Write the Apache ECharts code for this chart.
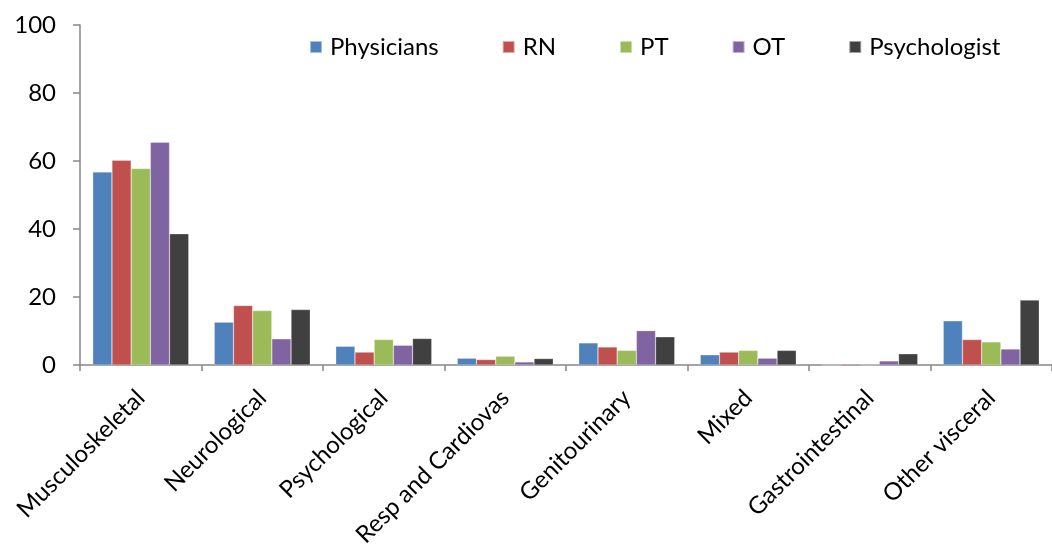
<!DOCTYPE html>
<html>
<head>
<meta charset="utf-8">
<script src="https://cdn.jsdelivr.net/npm/echarts@6/dist/echarts.min.js"></script>
<style>html,body{margin:0;padding:0;background:#fff;}#c{width:1052px;height:553px;}</style>
</head>
<body>
<div id="c"></div>
<script>
const categories = ['Musculoskeletal','Neurological','Psychological','Resp and Cardiovas','Genitourinary','Mixed','Gastrointestinal','Other visceral'];
const seriesNames = ['Physicians','RN','PT','OT','Psychologist'];
const physicians = [56.8, 12.6, 5.5, 2.0, 6.5, 3.0, 0, 13.0];
const rn = [60.2, 17.5, 3.8, 1.6, 5.3, 3.8, 0.3, 7.5];
const pt = [57.8, 16.0, 7.5, 2.6, 4.3, 4.3, 0, 6.8];
const ot = [65.5, 7.7, 5.8, 0.9, 10.1, 2.0, 1.2, 4.7];
const psychologist = [38.6, 16.3, 7.8, 1.9, 8.3, 4.3, 3.3, 19.1];
const yTicks = [0, 20, 40, 60, 80, 100];

const colors = ['#4F81BD','#C0504D','#9BBB59','#8064A2','#404040'];
const values = [physicians, rn, pt, ot, psychologist];
const font = 'Lato, Carlito, "Liberation Sans", sans-serif';

const chart = echarts.init(document.getElementById('c'), null, {renderer:'canvas'});
chart.setOption({
  animation: false,
  color: colors,
  textStyle: {fontFamily: font},
  legend: {
    left: 304, top: 30,
    itemWidth: 12, itemHeight: 12, itemGap: 63,
    icon: 'rect',
    textStyle: {fontSize: 24, color: '#000', fontFamily: font, padding: [0,0,0,3]},
    data: seriesNames
  },
  grid: {left: 80, top: 25, width: 982, height: 340, containLabel: false},
  xAxis: {
    type: 'category',
    data: categories,
    axisLine: {lineStyle: {color: '#868686', width: 1.5}},
    axisTick: {show: true, length: 6, lineStyle: {color: '#868686', width: 1.5}},
    axisLabel: {rotate: 45, fontSize: 24, color: '#000', fontFamily: font, margin: 29, interval: 0}
  },
  yAxis: {
    type: 'value', min: yTicks[0], max: yTicks[yTicks.length-1], interval: 20,
    axisLine: {show: true, lineStyle: {color: '#868686', width: 1.5}},
    axisTick: {show: true, length: 7, lineStyle: {color: '#868686', width: 1.5}},
    splitLine: {show: false},
    axisLabel: {fontSize: 24, color: '#000', fontFamily: font, margin: 24}
  },
  series: seriesNames.map((n, i) => ({
    name: n, type: 'bar', data: values[i],
    barGap: '0%', barCategoryGap: '21%',
    itemStyle: {color: colors[i], borderColor: 'rgba(255,255,255,0.5)', borderWidth: 0.5}
  }))
});
</script>
</body>
</html>
